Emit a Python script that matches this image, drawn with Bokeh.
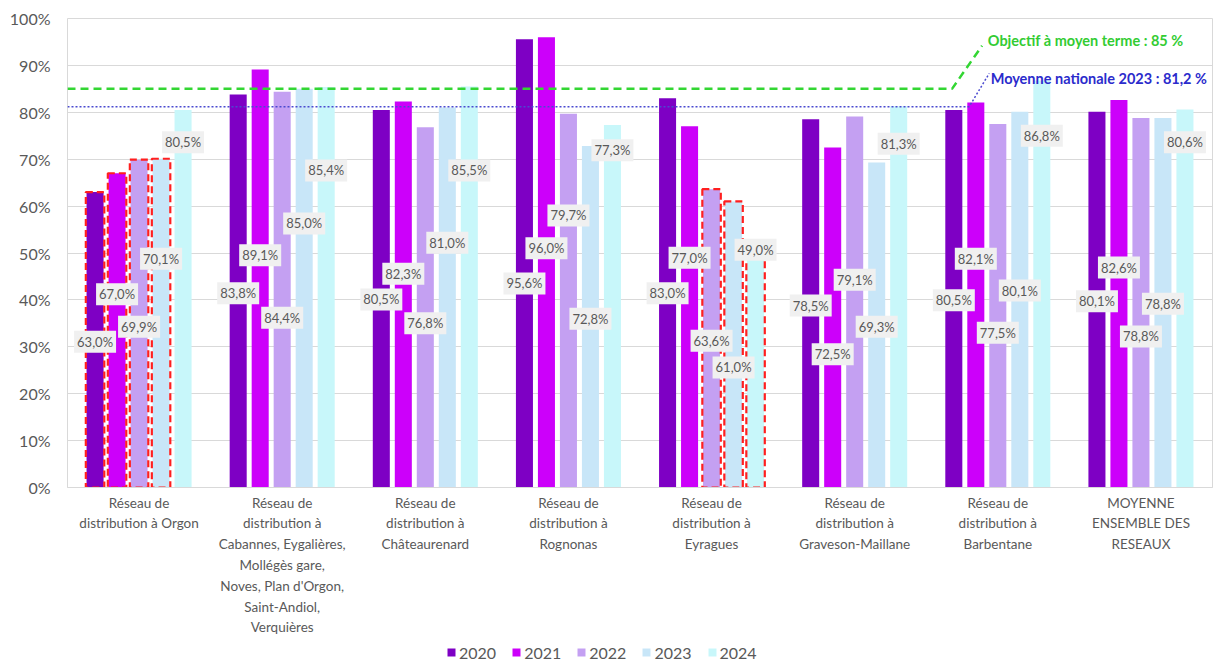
from bokeh.plotting import figure
from bokeh.layouts import column
from bokeh.models import (ColumnDataSource, FactorRange, Range1d, FixedTicker,
                          PrintfTickFormatter, Legend, LegendItem)
from bokeh.transform import dodge
from bokeh.core.properties import value
from bokeh.embed import file_html
from bokeh.resources import INLINE

# ---------------- data ----------------
categories = [
    "Réseau de\ndistribution à Orgon",
    "Réseau de\ndistribution à\nCabannes, Eygalières,\nMollégès gare,\nNoves, Plan d'Orgon,\nSaint-Andiol,\nVerquières",
    "Réseau de\ndistribution à\nChâteaurenard",
    "Réseau de\ndistribution à\nRognonas",
    "Réseau de\ndistribution à\nEyragues",
    "Réseau de\ndistribution à\nGraveson-Maillane",
    "Réseau de\ndistribution à\nBarbentane",
    "MOYENNE\nENSEMBLE DES\nRESEAUX",
]
years = ["2020", "2021", "2022", "2023", "2024"]
v2020 = [63.0, 83.8, 80.5, 95.6, 83.0, 78.5, 80.5, 80.1]
v2021 = [67.0, 89.1, 82.3, 96.0, 77.0, 72.5, 82.1, 82.6]
v2022 = [69.9, 84.4, 76.8, 79.7, 63.6, 79.1, 77.5, 78.8]
v2023 = [70.1, 85.0, 81.0, 72.8, 61.0, 69.3, 80.1, 78.8]
v2024 = [80.5, 85.4, 85.5, 77.3, 49.0, 81.3, 86.8, 80.6]
series = [v2020, v2021, v2022, v2023, v2024]

objectif = 85.0
moyenne_nationale = 81.2

# which bars carry a red dashed outline (category index -> year indices)
outlined = {0: [0, 1, 2, 3], 4: [2, 3, 4]}

# vertical placement of the value labels (layout, in axis units)
label_pos = [
    [31.1, 41.4, 40.1, 43.5, 41.4, 38.8, 39.9, 39.7],
    [41.2, 49.5, 45.6, 51.0, 49.0, 28.4, 48.8, 46.9],
    [34.3, 36.2, 35.0, 58.0, 31.3, 44.3, 33.0, 32.2],
    [48.8, 56.3, 52.2, 36.0, 25.6, 34.3, 42.0, 39.2],
    [73.6, 67.6, 67.6, 71.9, 50.7, 73.3, 75.0, 73.6],
]

# ---------------- style ----------------
colors = ["#7e00c4", "#cc00fa", "#c4a0f2", "#c8e6f8", "#c8f7fa"]
FONT = "Lato"
GREY = "#595959"
pitch = 0.1537
bar_w = 0.119

p = figure(width=1220, height=641, output_backend="svg", toolbar_location=None,
           x_range=FactorRange(*categories, range_padding=0),
           y_range=Range1d(0, 100),
           min_border_left=67, min_border_top=18, min_border_right=8,
           min_border_bottom=154)
p.outline_line_color = "#d9d9d9"
p.background_fill_color = "white"
p.border_fill_color = "white"

p.xgrid.grid_line_color = None
p.ygrid.grid_line_color = "#d9d9d9"
p.ygrid.ticker = FixedTicker(ticks=list(range(0, 101, 10)))

p.yaxis.ticker = FixedTicker(ticks=list(range(0, 101, 10)))
p.yaxis.formatter = PrintfTickFormatter(format="%d%%")
p.yaxis.axis_line_color = None
p.yaxis.major_tick_line_color = None
p.yaxis.minor_tick_line_color = None
p.yaxis.major_tick_out = 0
p.yaxis.major_label_text_font = FONT
p.yaxis.major_label_text_font_size = "16px"
p.yaxis.major_label_text_color = GREY
p.yaxis.major_label_standoff = 17

p.xaxis.axis_line_color = "#d9d9d9"
p.xaxis.major_tick_line_color = None
p.xaxis.minor_tick_line_color = None
p.xaxis.major_tick_out = 0
p.xaxis.major_label_text_font = FONT
p.xaxis.major_label_text_font_size = "13.5px"
p.xaxis.major_label_text_color = GREY
p.xaxis.major_label_text_line_height = 1.3
p.xaxis.major_label_standoff = 7

def fmt(v):
    return ("%.1f" % v).replace(".", ",") + "%"

for j, (yr, vals) in enumerate(zip(years, series)):
    off = (j - 2) * pitch
    src = ColumnDataSource(dict(cat=categories, top=vals))
    p.vbar(x=dodge("cat", off, range=p.x_range), top="top", width=bar_w,
           source=src, fill_color=colors[j], line_color=None)

# red dashed outlines
for ci, yis in outlined.items():
    for j in yis:
        off = (j - 2) * pitch
        src = ColumnDataSource(dict(cat=[categories[ci]], top=[series[j][ci]]))
        p.vbar(x=dodge("cat", off, range=p.x_range), top="top", width=bar_w + 0.01,
               source=src, fill_alpha=0, line_color="#ff1f1f", line_width=2.2,
               line_dash="7 4")

# reference lines with leader segments
p.line(x=[0, 6.18, 6.39], y=[objectif, objectif, 94.2], line_color="#33d633",
       line_width=2.5, line_dash="8 5")
p.line(x=[0, 6.30, 6.44], y=[moyenne_nationale, moyenne_nationale, 88.3],
       line_color="#4a4ad0", line_width=1.5, line_dash="2 2")
p.text(x=[6.43], y=[95.3], text=["Objectif à moyen terme : %d %%" % objectif],
       text_font=value(FONT), text_font_style="bold", text_font_size="14.5px",
       text_color="#33cc33", text_baseline="middle", text_align="left")
p.text(x=[6.45], y=[87.2],
       text=["Moyenne nationale 2023 : %s %%" % ("%.1f" % moyenne_nationale).replace(".", ",")],
       text_font=value(FONT), text_font_style="bold", text_font_size="14.5px",
       text_color="#2b2bcc", text_baseline="middle", text_align="left")

# value labels on top of everything
for j, vals in enumerate(series):
    off = (j - 2) * pitch
    src = ColumnDataSource(dict(cat=categories, lab=[fmt(v) for v in vals],
                                ly=label_pos[j]))
    p.text(x=dodge("cat", off, range=p.x_range), y="ly", text="lab", source=src,
           text_font=value(FONT), text_font_size="13px", text_color=GREY,
           text_align="center", text_baseline="middle",
           background_fill_color="#f0f0f0", padding=3)

# ---- legend strip under the chart ----
lg = figure(width=820, height=21, output_backend="svg", toolbar_location=None,
            x_range=Range1d(0, 1), y_range=Range1d(0, 1),
            x_axis_location=None, y_axis_location=None,
            min_border=0, outline_line_color=None)
lg.grid.visible = False
lg.border_fill_color = "white"
lg.background_fill_color = "white"
items = []
for j, yr in enumerate(years):
    r = lg.vbar(x=[0.5], top=[0], bottom=[0], width=0.0, fill_color=colors[j],
                line_color=None)
    items.append(LegendItem(label=yr, renderers=[r]))
legend = Legend(items=items, orientation="horizontal",
                location=(379, 0), glyph_width=10, glyph_height=10,
                label_height=20,
                label_text_font=FONT, label_text_font_size="16px",
                label_text_color=GREY, label_standoff=3, spacing=15,
                padding=0, margin=0, border_line_color=None,
                background_fill_alpha=0)
lg.add_layout(legend, "center")

open("out.html", "w").write(file_html(column(p, lg, spacing=0), INLINE))
